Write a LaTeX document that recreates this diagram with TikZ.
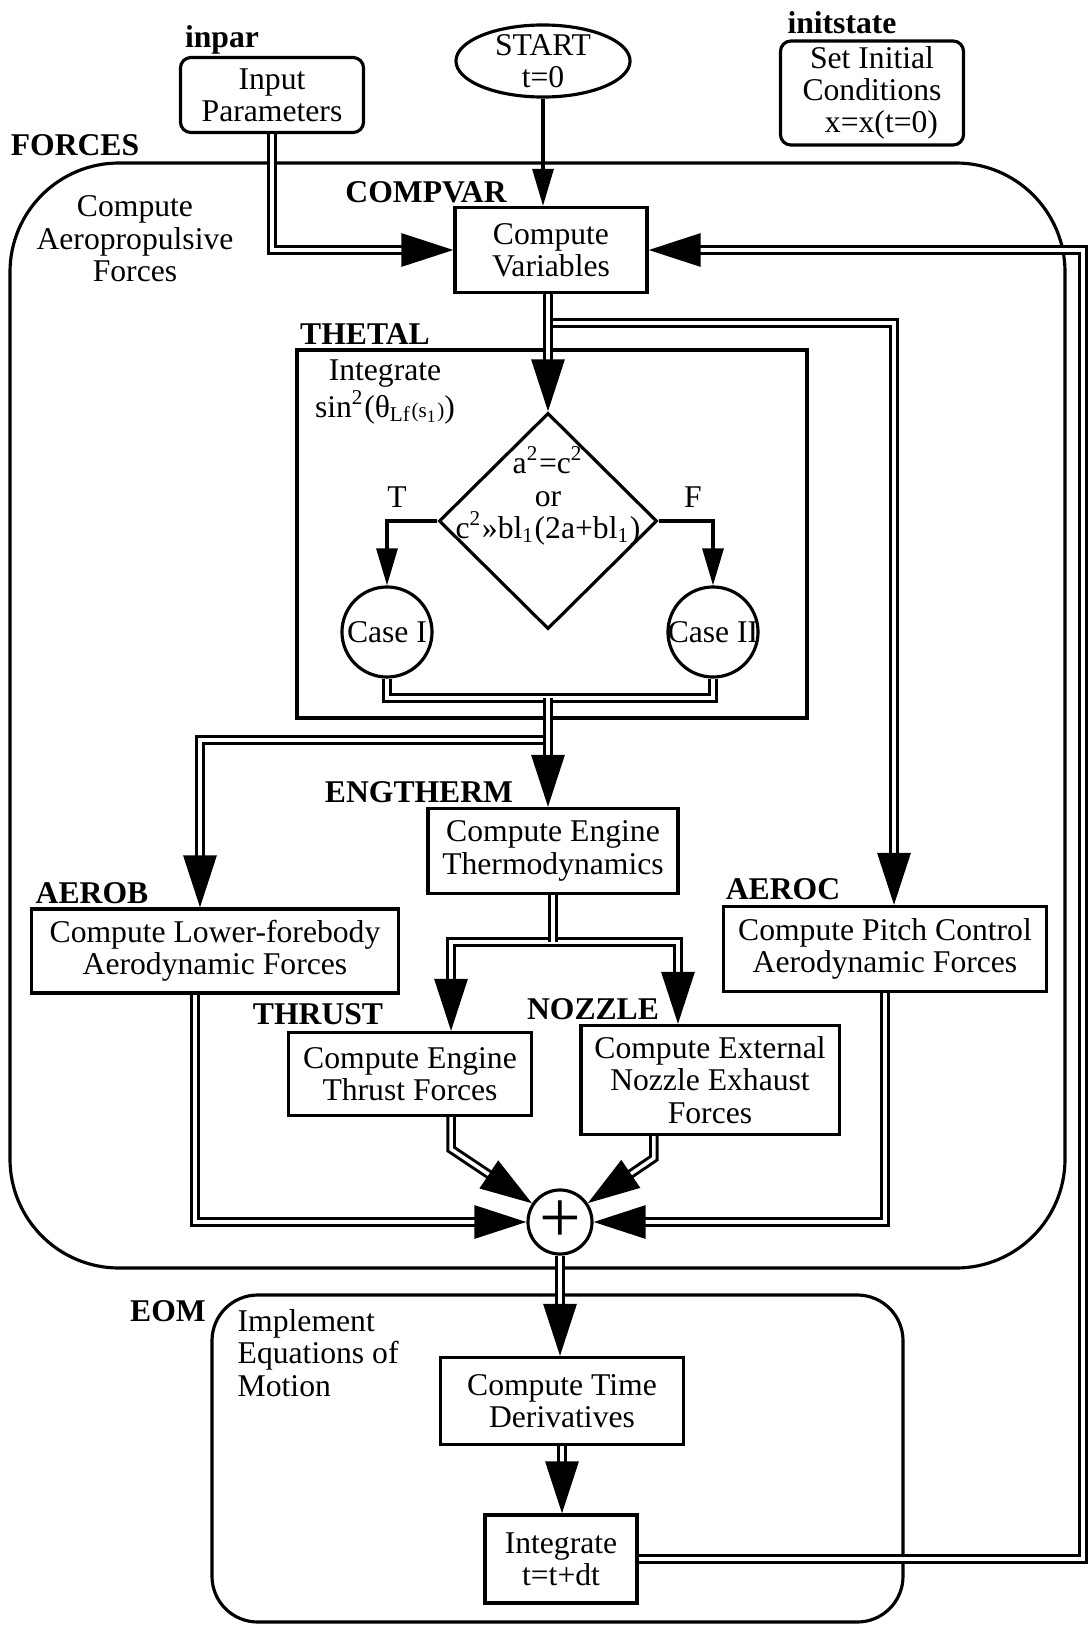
\documentclass[tikz,border=0pt]{standalone}
\usepackage{fontspec}
\setmainfont{Liberation Serif}
\usetikzlibrary{shapes.geometric, arrows.meta}

\tikzset{
  box/.style={draw, line width=0.9pt, align=center, inner sep=0pt},
  rbox/.style={box, rounded corners=3pt},
  oval/.style={draw, line width=0.9pt, ellipse, inner sep=0pt},
  lbl/.style={font=\fontsize{9}{9.2}\selectfont\bfseries, inner sep=0pt},
  region/.style={line width=0.9pt},
  dbl/.style={double, double distance=1pt, line width=0.85pt},
  arr/.style={-{Triangle[length=5.2mm, width=3.3mm]}},
  sarr/.style={line width=0.9pt, -{Triangle[length=3.7mm, width=2.1mm]}},
}

\begin{document}
\begin{tikzpicture}[x=0.01cm, y=-0.01cm, font=\fontsize{9}{9.2}\selectfont]
\useasboundingbox (0,0) rectangle (1091,1627);

% regions
\draw[region, rounded corners=31pt] (10,163) rectangle (1065,1268);
\draw[region] (297,350) rectangle (807,718);
\draw[region, rounded corners=13pt] (212,1295) rectangle (903,1622);

% top row
\node[lbl] at (222,40) {inpar};
\node[rbox, minimum width=1.83cm, minimum height=0.75cm] (inpar) at (272,95) {Input\\Parameters};
\node[oval, minimum width=1.74cm, minimum height=0.72cm, label={[align=center]center:{START\\t=0}}] (start) at (543,61) {};
\node[lbl] at (842,23) {initstate};
\node[rbox, minimum width=1.83cm, minimum height=1.04cm] (init) at (872,93) {Set Initial\\Conditions\\\hspace*{0.6em}x=x(t=0)};

% forces
\node[lbl] at (75,145) {FORCES};
\node[align=center, inner sep=0pt] at (135,239) {Compute\\Aeropropulsive\\Forces};
\node[lbl] at (426,192) {COMPVAR};
\node[box, minimum width=1.92cm, minimum height=0.85cm] (compvar) at (551,250) {Compute\\Variables};

\node[lbl] at (365,334) {THETAL};
\node[align=center, inner sep=0pt] at (385,392) {Integrate\\sin\textsuperscript{2}(θ\textsubscript{Lf}{\fontsize{6}{6}\selectfont(s\textsubscript{1})})};
\node[draw, line width=0.9pt, diamond, inner sep=0pt, minimum width=2.18cm, minimum height=2.16cm,
  label={[align=center, yshift=2.5mm]center:{a\textsuperscript{2}=c\textsuperscript{2}\\or\\c\textsuperscript{2}»bl\textsubscript{1}(2a+bl\textsubscript{1})}}] (cond) at (548,521) {};
\node[inner sep=0pt] at (397,497) {T};
\node[inner sep=0pt] at (693,497) {F};
\node[oval, minimum width=0.9cm, minimum height=0.9cm, label=center:{Case I}] (case1) at (387,632) {};
\node[oval, minimum width=0.9cm, minimum height=0.9cm, label=center:{Case II}] (case2) at (713,632) {};

\node[lbl] at (419,792) {ENGTHERM};
\node[box, minimum width=2.50cm, minimum height=0.85cm] (ength) at (553,851) {Compute Engine\\Thermodynamics};
\node[lbl] at (92,893) {AEROB};
\node[box, minimum width=3.67cm, minimum height=0.84cm] (aerob) at (215,951) {Compute Lower-forebody\\Aerodynamic Forces};
\node[lbl] at (783,889) {AEROC};
\node[box, minimum width=3.23cm, minimum height=0.85cm] (aeroc) at (885,949) {Compute Pitch Control\\Aerodynamic Forces};
\node[lbl] at (318,1014) {THRUST};
\node[box, minimum width=2.43cm, minimum height=0.83cm] (thrust) at (410,1074) {Compute Engine\\Thrust Forces};
\node[lbl] at (593,1009) {NOZZLE};
\node[box, minimum width=2.58cm, minimum height=1.09cm] (nozzle) at (710,1080) {Compute External\\Nozzle Exhaust\\Forces};
\node[draw, line width=0.9pt, circle, inner sep=0pt, minimum size=0.64cm, font=\fontsize{21}{21}\selectfont] (sum) at (560,1222) {+};

% eom
\node[lbl] at (168,1311) {EOM};
\node[align=left, inner sep=0pt, anchor=west] at (237,1353) {Implement\\Equations of\\Motion};
\node[box, minimum width=2.43cm, minimum height=0.87cm] (deriv) at (562,1401) {Compute Time\\Derivatives};
\node[box, minimum width=1.52cm, minimum height=0.88cm] (integ) at (561,1559) {Integrate\\t=t+dt};

% connectors
\draw[sarr] (start.south) -- (start.south |- compvar.north);
\draw[dbl, arr] (inpar.south) |- (compvar.west);
\coordinate (fb) at (1083,250);
\draw[dbl, arr] (integ.east) -| (fb) -- (compvar.east);
\draw[dbl, arr] (548,323) -| ([xshift=0.09cm]aeroc.north);
\draw[dbl, arr] (compvar.south -| cond.north) -- (cond.north);
\draw[sarr] (cond.west) -| (case1.north);
\draw[sarr] (cond.east) -| (case2.north);
\coordinate (join) at (548,698);
\draw[dbl] (case1.south) |- (join) -| (case2.south);
\draw[dbl, arr] (548,740) -| ([xshift=-0.15cm]aerob.north);
\draw[dbl, arr] (join) -- (join |- ength.north);
\coordinate (br) at (553,942);
\draw[dbl, arr] (br) -| ([xshift=0.41cm]thrust.north);
\draw[dbl, arr] (br) -| ([xshift=-0.32cm]nozzle.north);
\draw[dbl] (ength.south) -- (br);
\draw[dbl, arr] ([xshift=-0.2cm]aerob.south) |- (sum.west);
\draw[dbl, arr] (aeroc.south) |- (sum.east);
\draw[dbl, arr] ([xshift=0.41cm]thrust.south) -- ++(0,32) -- (sum);
\draw[dbl, arr] ([xshift=-0.56cm]nozzle.south) -- ++(0,22) -- (sum);
\draw[dbl, arr] (sum.south) -- (sum.south |- deriv.north);
\draw[dbl, arr] (deriv.south) -- (deriv.south |- integ.north);
\end{tikzpicture}
\end{document}
